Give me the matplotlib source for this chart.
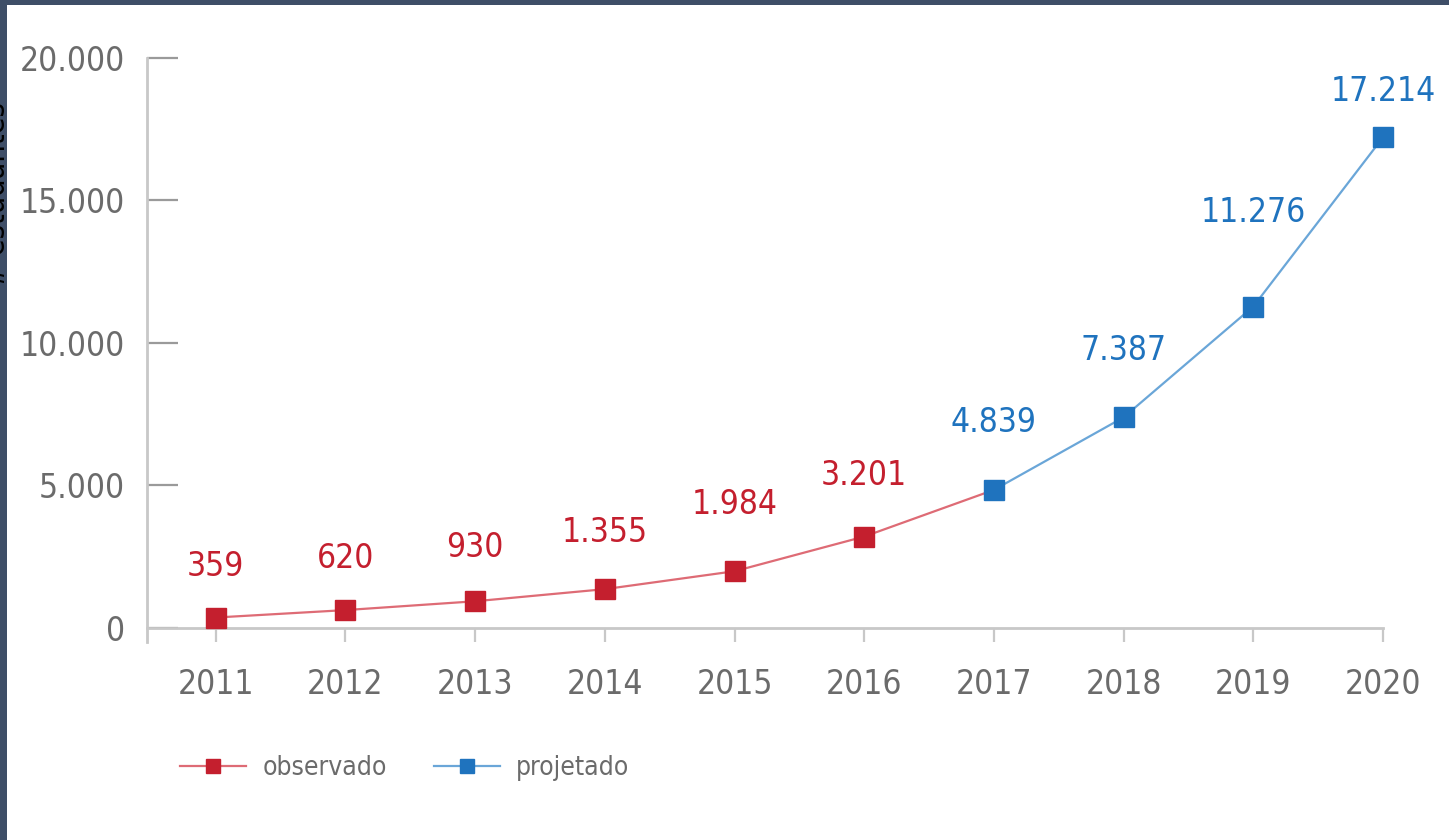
import matplotlib
matplotlib.use("Agg")
import matplotlib.pyplot as plt
from matplotlib import font_manager
from matplotlib.patches import Rectangle
from matplotlib.lines import Line2D

## data

anos_obs = [2011, 2012, 2013, 2014, 2015, 2016, 2017]
estudantes_obs = [359, 620, 930, 1355, 1984, 3201, 4839]

anos_proj = [2017, 2018, 2019, 2020]
estudantes_proj = [4839, 7387, 11276, 17214]

rotulos_obs = ["359", "620", "930", "1.355", "1.984", "3.201"]
rotulos_proj = ["4.839", "7.387", "11.276", "17.214"]

anos = [2011, 2012, 2013, 2014, 2015, 2016, 2017, 2018, 2019, 2020]
y_ticks = [0, 5000, 10000, 15000, 20000]
y_ticklabels = ["0", "5.000", "10.000", "15.000", "20.000"]

# label offsets above the marker (points)
off_obs = [25, 25, 27, 29, 36, 32]
off_proj = [37, 36, 56, 21]

red = "#c41f2e"
red_line = "#de6b75"
blue = "#1f73be"
blue_line = "#6aa6d8"
grey = "#6b6b6b"

names = [f.name for f in font_manager.fontManager.ttflist]
if "Liberation Sans Narrow" in names:
    fam = "Liberation Sans Narrow"
    stretch = "normal"
else:
    fam = "DejaVu Sans"
    stretch = "condensed"
plt.rcParams["font.family"] = fam
plt.rcParams["font.stretch"] = stretch

fig = plt.figure(figsize=(14.49, 8.40), dpi=100)
fig.patch.set_facecolor("white")

# dark frame on top / left
fig.patches.append(Rectangle((0, 1 - 5 / 840), 1, 5 / 840, transform=fig.transFigure,
                             facecolor="#3e4e67", edgecolor="none", zorder=0))
fig.patches.append(Rectangle((0, 0), 7 / 1449, 1, transform=fig.transFigure,
                             facecolor="#3e4e67", edgecolor="none", zorder=0))

ax = fig.add_axes([147 / 1449, 1 - 642 / 840, (1383 - 147) / 1449, (642 - 58) / 840])

ax.plot(anos_obs, estudantes_obs, color=red_line, lw=1.6, zorder=2, clip_on=False)
ax.plot(anos_proj, estudantes_proj, color=blue_line, lw=1.6, zorder=2, clip_on=False)
ax.plot(anos_obs[:-1], estudantes_obs[:-1], "s", color=red, ms=14, zorder=3, clip_on=False)
ax.plot(anos_proj, estudantes_proj, "s", color=blue, ms=14, zorder=3, clip_on=False)

for x, y, t, o in zip(anos_obs[:-1], estudantes_obs[:-1], rotulos_obs, off_obs):
    ax.annotate(t, (x, y), xytext=(0, o), textcoords="offset points",
                ha="center", va="bottom", color=red, fontsize=24)
for x, y, t, o in zip(anos_proj, estudantes_proj, rotulos_proj, off_proj):
    ax.annotate(t, (x, y), xytext=(0, o), textcoords="offset points",
                ha="center", va="bottom", color=blue, fontsize=24)

ax.set_xlim(2010.47, 2020)
ax.set_ylim(-500, 20000)
ax.set_xticks(anos)
ax.set_xticklabels([str(a) for a in anos])
ax.set_yticks(y_ticks)
ax.set_yticklabels(y_ticklabels)

for s in ["top", "right"]:
    ax.spines[s].set_visible(False)
ax.spines["bottom"].set_position(("data", 0))
ax.spines["left"].set_color("#c8c8c8")
ax.spines["bottom"].set_color("#c8c8c8")
ax.spines["left"].set_linewidth(2)
ax.spines["bottom"].set_linewidth(2)

ax.tick_params(axis="y", direction="in", length=22, width=1.6, color="#9a9a9a",
               pad=16, labelsize=24, labelcolor=grey)
ax.tick_params(axis="x", direction="out", length=10, width=1.6, color="#c8c8c8",
               pad=19, labelsize=24, labelcolor=grey)

h_obs = Line2D([], [], color=red_line, lw=1.6, marker="s", ms=10, mfc=red, mec=red)
h_proj = Line2D([], [], color=blue_line, lw=1.6, marker="s", ms=10, mfc=blue, mec=blue)
leg = ax.legend([h_obs, h_proj], ["observado", "projetado"], loc="center left",
                bbox_to_anchor=(0.027, -0.216), ncol=2, frameon=False, fontsize=19,
                borderaxespad=0, borderpad=0, handlelength=2.5, columnspacing=1.8,
                handletextpad=0.6)
for t in leg.get_texts():
    t.set_color(grey)

fig.text(11 / 1449, 1 - 195 / 840, "# estudantes", rotation=90, ha="right",
         va="center", fontsize=22, color="black", family="DejaVu Sans")

fig.savefig("out.png", dpi=100)
